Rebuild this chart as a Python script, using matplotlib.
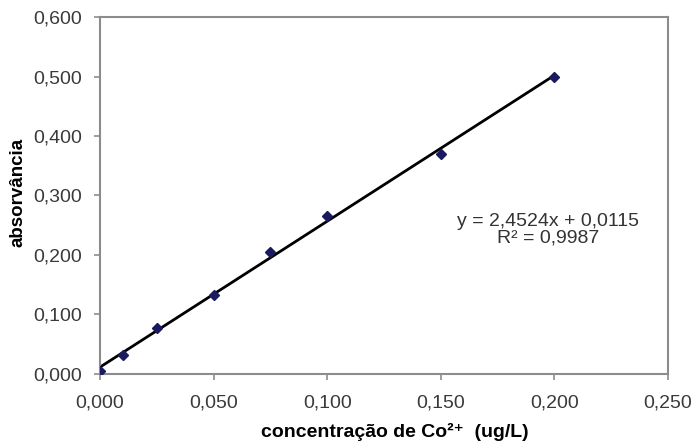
import numpy as np
import matplotlib.pyplot as plt
from matplotlib.ticker import FuncFormatter

# calibration data
conc = [0.000, 0.010, 0.025, 0.050, 0.075, 0.100, 0.150, 0.200]
absorb = [0.005, 0.032, 0.077, 0.133, 0.205, 0.266, 0.370, 0.500]
slope = 2.4524
intercept = 0.0115
r2 = 0.9987

plt.rcParams['font.family'] = ['Liberation Sans', 'DejaVu Sans']

fig = plt.figure(figsize=(6.95, 4.43), dpi=100)
ax = fig.add_axes([0.1439, 0.1558, 0.8172, 0.8058])

xfit = np.array([conc[0], conc[-1]])
ax.plot(xfit, slope * xfit + intercept, color='black', lw=2, zorder=2)
ax.plot(conc, absorb, ls='none', marker='D', ms=5, color='#1a1a5e', zorder=3)

ax.set_xlim(0, 0.25)
ax.set_ylim(0, 0.6)
ax.set_xticks(np.arange(0, 0.251, 0.05))
ax.set_yticks(np.arange(0, 0.601, 0.1))
fmt = FuncFormatter(lambda v, p: f"{v:.3f}".replace('.', ','))
ax.xaxis.set_major_formatter(fmt)
ax.yaxis.set_major_formatter(fmt)

for s in ax.spines.values():
    s.set_color('#8c8c8c')
    s.set_linewidth(1.5)
ax.tick_params(direction='out', length=4, width=1.2, color='#8c8c8c',
               labelsize=14, labelcolor='#3a3a3a')
ax.tick_params(axis='x', pad=11)
ax.tick_params(axis='y', pad=9)

fig.text(0.568, 1 - 432 / 443, 'concentração de Co²⁺  (ug/L)', fontsize=14,
         fontweight='bold', ha='center', va='center')
fig.text(18 / 695, 1 - 192 / 443, 'absorvância', fontsize=13.5, fontweight='bold',
         rotation=90, ha='center', va='center')

eq = f"y = {slope:.4f}x + {intercept:.4f}".replace('.', ',')
ax.text(0.1974, 0.2424, eq + '\n' + f"R² = {r2:.4f}".replace('.', ','),
        ha='center', va='center', fontsize=14, color='#333333', linespacing=1.0)

fig.savefig('out.png', dpi=100)
